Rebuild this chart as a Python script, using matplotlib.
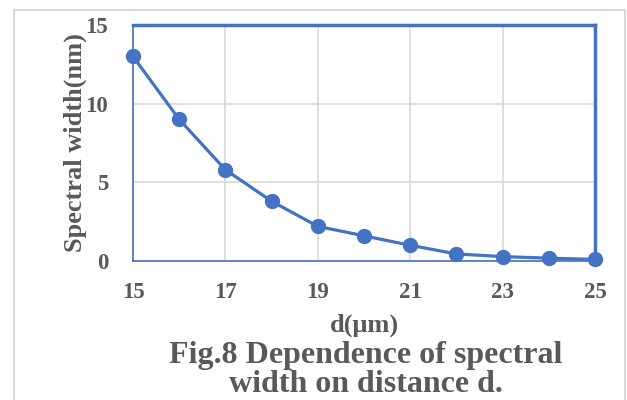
import matplotlib.pyplot as plt
from matplotlib.patches import Rectangle

plt.rcParams['font.family'] = ['Liberation Serif', 'DejaVu Serif']
plt.rcParams['font.weight'] = 'bold'

# data
d_um = [15, 16, 17, 18, 19, 20, 21, 22, 23, 24, 25]
width_nm = [13.0, 9.0, 5.8, 3.8, 2.2, 1.6, 1.0, 0.45, 0.28, 0.18, 0.1]
x_ticks = [15, 17, 19, 21, 23, 25]
y_ticks = [0, 5, 10, 15]

blue = '#4472C4'
grey_txt = '#595959'
grid_c = '#D9D9D9'

fig = plt.figure(figsize=(6.27, 4.0), dpi=100)

# outer chart frame
fig.patches.append(Rectangle((14 / 627, -0.05), 611 / 627, 1.05 - 10 / 400,
                             transform=fig.transFigure, fill=False,
                             edgecolor=grid_c, linewidth=1.5))

ax = fig.add_axes([133 / 627, 1 - 261 / 400, 462 / 627, 236 / 400])
ax.plot(d_um, width_nm, color=blue, linewidth=2.3, marker='o',
        markersize=10, clip_on=False, zorder=5)

ax.set_xlim(15, 25)
ax.set_ylim(0, 15)
ax.set_xticks(x_ticks)
ax.set_yticks(y_ticks)
ax.grid(True, color=grid_c, linewidth=1.2)
ax.set_axisbelow(True)
ax.tick_params(length=0, labelsize=16.5, labelcolor=grey_txt)
ax.tick_params(axis='x', pad=15)
ax.tick_params(axis='y', pad=18)
for lab in ax.get_xticklabels() + ax.get_yticklabels():
    lab.set_fontweight('bold')

for s in ['top', 'right']:
    ax.spines[s].set_color(blue)
    ax.spines[s].set_linewidth(2.5)
for s in ['left', 'bottom']:
    ax.spines[s].set_color(blue)
    ax.spines[s].set_linewidth(1.2)

ax.set_xlabel('d(μm)', fontsize=19, fontweight='bold', color=grey_txt, labelpad=8)
ax.set_ylabel('Spectral width(nm)', fontsize=19, fontweight='bold',
              color=grey_txt, labelpad=-1)

fig.text(366 / 627, 1 - 370 / 400, 'Fig.8 Dependence of spectral\nwidth on distance d.',
         ha='center', va='center', fontsize=23, color=grey_txt,
         fontweight='bold', linespacing=1.0)

fig.savefig('out.png', dpi=100)
